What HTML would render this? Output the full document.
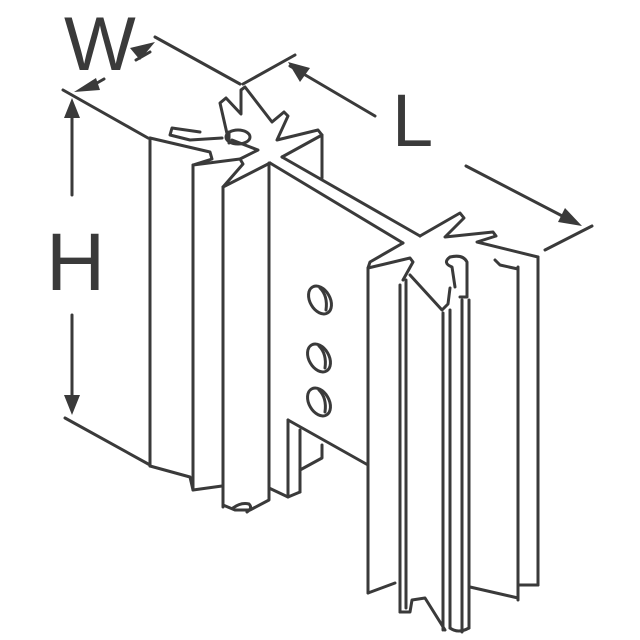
<!DOCTYPE html>
<html><head><meta charset="utf-8"><style>html,body{margin:0;padding:0;background:#fff}svg{display:block}</style></head>
<body>
<svg width="640" height="640" viewBox="0 0 640 640" xmlns="http://www.w3.org/2000/svg">
<g fill="none" stroke="#3a3a3a" stroke-width="3" stroke-linejoin="round" stroke-linecap="round">
<!-- dimension lines -->
<line x1="155" y1="37" x2="240" y2="84"/>
<line x1="243" y1="84" x2="295" y2="55"/>
<line x1="290" y1="66" x2="375" y2="116"/>
<line x1="466" y1="166" x2="570" y2="220"/>
<line x1="545" y1="250" x2="592" y2="226"/>
<line x1="63" y1="90" x2="148" y2="138"/>
<line x1="65" y1="418" x2="150" y2="465"/>
<line x1="72" y1="110" x2="72" y2="195"/>
<line x1="72" y1="315" x2="72" y2="400"/>
<line x1="136" y1="60" x2="150" y2="52"/>
<line x1="104" y1="79" x2="90" y2="87"/>
<!-- left module -->
<line x1="150" y1="138" x2="150" y2="466"/>
<polyline points="150,138 210,152 212,159 193,165 240,159 243,164 223,187 270,163"/>
<line x1="193" y1="165" x2="193" y2="490"/>
<line x1="223" y1="187" x2="223" y2="507"/>
<line x1="269" y1="163" x2="269" y2="488"/>
<polyline points="150,466 190,477 193,490 222,486"/>
<polyline points="223,505 235,510 250,510 269,500 269,488 288,497 300,492"/>
<path d="M233,508 q8,-6 16,-4 q4,4 -2,8"/>
<polyline points="200,132 172,128 170,135 190,140 222,138"/>
<polyline points="240,159 258,150 232,140"/>
<polyline points="228,138 220,103 226,98 241,114 241,90 245,87 272,122 284,112 288,116 277,140 318,130 322,135 282,157"/>
<ellipse cx="238" cy="137" rx="12" ry="7"/>
<line x1="229" y1="132" x2="229" y2="143"/>
<line x1="322" y1="135" x2="322" y2="178"/>
<!-- plate -->
<line x1="282" y1="157" x2="420" y2="236"/>
<line x1="270" y1="163" x2="403" y2="243"/>
<line x1="288" y1="420" x2="368" y2="465"/>
<polyline points="288,420 288,497"/>
<polyline points="300,430 300,492"/>
<polyline points="300,470 322,458 322,445"/>
<ellipse cx="320" cy="300" rx="10" ry="15" transform="rotate(-30 320 300)"/>
<ellipse cx="319" cy="358" rx="10" ry="15" transform="rotate(-30 319 358)"/>
<ellipse cx="319" cy="402" rx="10" ry="15" transform="rotate(-30 319 402)"/>
<path d="M320,288 q8,8 6,22"/>
<path d="M319,346 q8,8 6,22"/>
<path d="M319,390 q8,8 6,22"/>
<!-- right module -->
<polyline points="403,243 370,262 368,268 410,258 413,262 403,280"/>
<polyline points="420,236 460,213 464,218 445,237 493,232 496,236 477,242 538,257"/>
<polyline points="410,275 442,310 448,304 450,288"/>
<polyline points="460,297 467,297 467,263"/>
<path d="M467,262 q-4,-8 -17,-5 q-8,6 2,10 l3,20"/>
<polyline points="495,260 500,265 518,269"/>
<line x1="368" y1="268" x2="368" y2="593"/>
<line x1="400" y1="285" x2="400" y2="612"/>
<line x1="406" y1="280" x2="406" y2="608"/>
<line x1="443" y1="313" x2="443" y2="630"/>
<line x1="450" y1="310" x2="450" y2="628"/>
<line x1="462" y1="300" x2="462" y2="632"/>
<line x1="469" y1="300" x2="469" y2="628"/>
<line x1="518" y1="267" x2="518" y2="600"/>
<line x1="538" y1="257" x2="538" y2="585"/>
<polyline points="368,593 395,583"/>
<polyline points="400,612 410,612 412,600 425,598 445,630"/>
<polyline points="470,587 518,598"/>
<polyline points="518,585 538,585"/>
<path d="M450,628 q8,6 19,0"/>
</g>
<g fill="#3a3a3a">
<polygon points="155,42 130,48 140,60"/>
<polygon points="74,92 96,78 100,90"/>
<polygon points="72,98 64,118 80,118"/>
<polygon points="72,415 64,395 80,395"/>
<polygon points="288,62 310,68 300,82"/>
<polygon points="582,226 558,222 565,208"/>
</g>
<g fill="#3a3a3a" font-family="Liberation Sans, sans-serif">
<text x="64" y="70" font-size="76">W</text>
<text x="46" y="290" font-size="82">H</text>
<text x="392" y="146" font-size="74">L</text>
</g>
</svg>
</body></html>
